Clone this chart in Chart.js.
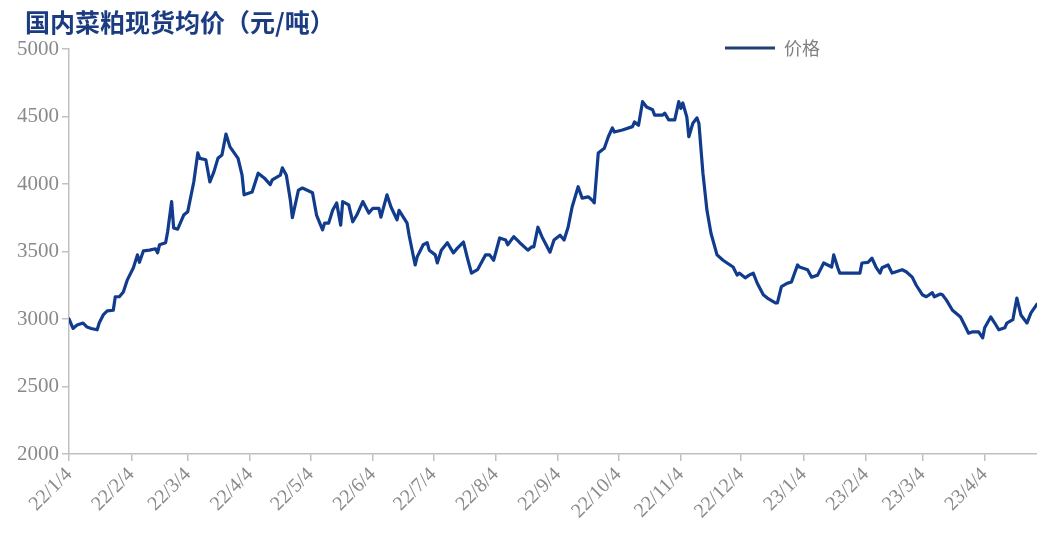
<!DOCTYPE html>
<html>
<head>
<meta charset="utf-8">
<script src="https://cdn.jsdelivr.net/npm/chart.js@4/dist/chart.umd.min.js"></script>
<style>
html,body{margin:0;padding:0;background:#fff;}
#wrap{width:1037px;height:543px;}
</style>
</head>
<body>
<div id="wrap"><canvas id="c" width="1037" height="543"></canvas></div>
<script>
// ---- data ----
const startDate = '2022-01-04';
const tickDates = ['2022-01-04','2022-02-04','2022-03-04','2022-04-04','2022-05-04','2022-06-04','2022-07-04','2022-08-04','2022-09-04','2022-10-04','2022-11-04','2022-12-04','2023-01-04','2023-02-04','2023-03-04','2023-04-04'];
const tickLabels = ['22/1/4','22/2/4','22/3/4','22/4/4','22/5/4','22/6/4','22/7/4','22/8/4','22/9/4','22/10/4','22/11/4','22/12/4','23/1/4','23/2/4','23/3/4','23/4/4'];
const endDay = 481; // days after startDate (about 2023-04-30)
// days since 2022-01-04
const dayOffsets = [0,2,4,7,9,11,14,15,17,19,22,23,25,27,29,32,34,35,37,40,43,44,45,48,49,51,52,54,57,59,62,64,65,68,70,72,74,76,78,80,84,86,87,91,94,97,100,101,105,106,108,110,111,114,116,
121,123,126,127,129,131,133,135,136,139,141,143,146,149,151,154,155,158,160,163,164,168,169,172,173,176,178,179,182,183,185,188,191,193,196,198,200,203,205,207,209,211,214,217,218,221,224,228,230,231,233,235,239,
241,244,246,248,250,253,255,258,260,261,263,266,268,270,271,275,280,281,283,285,287,290,291,295,296,298,301,303,304,305,307,308,310,312,313,315,317,319,322,325,327,330,332,333,336,338,340,342,345,347,351,352,354,357,359,362,
363,367,369,372,375,377,379,380,382,383,393,394,397,399,401,403,404,407,409,411,414,416,419,421,424,426,429,430,433,434,436,439,443,445,447,449,452,454,455,458,460,462,465,466,469,471,473,476,478,481];
const prices = [3000,2930,2955,2970,2940,2930,2920,2970,3030,3060,3065,3165,3165,3200,3290,3380,3475,3420,3505,3510,3520,3490,3550,3565,3645,3870,3675,3665,3770,3795,4015,4230,4190,4180,4015,4090,4190,4215,4370,4275,4190,4065,3920,3940,4080,4045,3995,4030,4065,4120,4065,3880,3750,3955,3970,
3935,3770,3660,3710,3710,3805,3860,3695,3870,3845,3720,3770,3870,3785,3820,3820,3755,3920,3830,3735,3805,3710,3620,3400,3460,3550,3565,3510,3475,3415,3510,3565,3490,3525,3570,3450,3340,3365,3420,3475,3475,3435,3600,3585,3550,3610,3565,3510,3535,3535,3680,3610,3495,
3585,3620,3585,3680,3830,3980,3895,3905,3880,3860,4230,4265,4350,4415,4385,4400,4425,4460,4435,4610,4570,4550,4510,4510,4525,4475,4475,4610,4560,4600,4495,4350,4450,4490,4450,4080,3805,3635,3475,3435,3415,3385,3325,3340,3305,3325,3340,3265,3180,3155,3120,3120,3240,3265,3275,3400,
3385,3365,3310,3325,3415,3400,3385,3475,3380,3340,3340,3415,3420,3450,3385,3340,3380,3400,3340,3350,3365,3350,3310,3250,3180,3165,3195,3165,3185,3180,3140,3065,3015,2955,2895,2905,2905,2860,2935,3015,2970,2920,2935,2970,2995,3155,3030,2970,3045,3110];
const seriesName = '价格';
const titleText = '国内菜粕现货均价（元/吨）';
const yMin = 2000, yMax = 5000, yStep = 500;

// ---- build ----
const DAY = 86400000;
const t0 = Date.parse(startDate + 'T00:00:00Z');
const tickPos = tickDates.map(d => Math.round((Date.parse(d + 'T00:00:00Z') - t0) / DAY));
const points = dayOffsets.map((d, i) => ({x: d, y: prices[i]}));

const lineColor = '#113b8c';
const axisGrey = '#c0c0c0';
const textGrey = '#8a8a8a';

const boxMove = {
  id: 'boxMove',
  afterLayout(chart) {
    const lg = chart.legend;
    if (lg) {
      const w = lg.width;
      lg.left = 715;
      lg.right = 715 + w;
      lg.top = chart.chartArea.top - 20;
    }
    const tb = chart.titleBlock;
    if (tb) { tb.left = 25; }
  }
};

new Chart(document.getElementById('c'), {
  type: 'line',
  data: {
    datasets: [{
      label: seriesName,
      data: points,
      borderColor: lineColor,
      backgroundColor: lineColor,
      borderWidth: 3.2,
      pointRadius: 0,
      tension: 0,
      borderJoinStyle: 'round',
      borderCapStyle: 'round'
    }]
  },
  options: {
    responsive: false,
    animation: false,
    devicePixelRatio: 1,
    layout: {padding: {left: 0, right: 0, top: 0, bottom: 0}},
    plugins: {
      title: {
        display: true,
        text: titleText,
        align: 'start',
        color: '#1b3c80',
        font: {family: '"Noto Sans CJK SC"', size: 25, weight: 'bold', lineHeight: 1.2},
        padding: {top: 7, bottom: 12}
      },
      legend: {
        display: true,
        position: 'chartArea',
        align: 'start',
        labels: {
          boxWidth: 50,
          boxHeight: 3,
          color: '#808080',
          font: {family: '"Noto Sans CJK SC"', size: 18},
          generateLabels: (chart) => [{
            text: seriesName,
            fillStyle: '#233f73',
            strokeStyle: '#233f73',
            fontColor: '#808080',
            lineWidth: 0,
            hidden: false,
            datasetIndex: 0
          }]
        }
      },
      tooltip: {enabled: false}
    },
    scales: {
      x: {
        type: 'linear',
        min: 0,
        max: endDay,
        afterBuildTicks: (scale) => { scale.ticks = tickPos.map(v => ({value: v})); },
        afterFit: (scale) => { scale.height = 89; },
        ticks: {
          autoSkip: false,
          minRotation: 45,
          maxRotation: 45,
          color: textGrey,
          font: {family: '"Liberation Serif"', size: 20},
          padding: 2,
          callback: (v) => { const i = tickPos.indexOf(v); return i >= 0 ? tickLabels[i] : ''; }
        },
        grid: {display: true, drawOnChartArea: false, drawTicks: true, tickLength: 7, color: axisGrey, lineWidth: 1.5},
        border: {display: true, color: axisGrey, width: 1.5}
      },
      y: {
        min: yMin,
        max: yMax,
        afterFit: (scale) => { scale.width = 69; },
        ticks: {
          stepSize: yStep,
          color: textGrey,
          font: {family: '"Liberation Serif"', size: 21},
          padding: 3,
          callback: (v) => String(v)
        },
        grid: {display: true, drawOnChartArea: false, drawTicks: true, tickLength: 7, color: axisGrey, lineWidth: 1.5},
        border: {display: true, color: axisGrey, width: 1.5}
      }
    }
  },
  plugins: [boxMove]
});
</script>
</body>
</html>
